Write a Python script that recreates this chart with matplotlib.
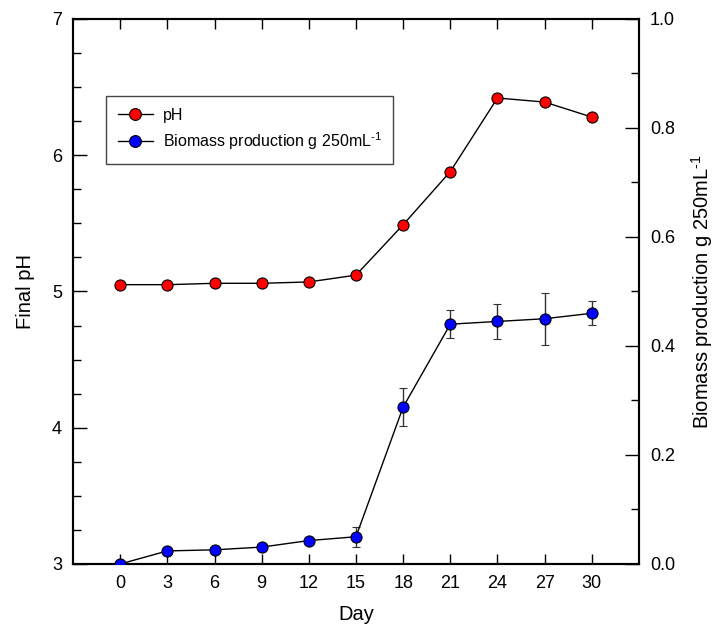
import matplotlib.pyplot as plt
from matplotlib.lines import Line2D
from matplotlib.ticker import MultipleLocator

plt.rcParams['font.family'] = ['Liberation Sans', 'DejaVu Sans']
plt.rcParams['mathtext.fontset'] = 'custom'
plt.rcParams['mathtext.rm'] = 'Liberation Sans'

# ---------------------------------------------
# Data
# ---------------------------------------------
days = [0, 3, 6, 9, 12, 15, 18, 21, 24, 27, 30]

ph = [5.05, 5.05, 5.06, 5.06, 5.07, 5.12, 5.49, 5.88, 6.42, 6.39, 6.28]
ph_err = [0.01, 0.01, 0.01, 0.01, 0.01, 0.015, 0.025, 0.025, 0.03, 0.025, 0.025]

biomass = [0.0, 0.024, 0.026, 0.031, 0.043, 0.050, 0.288, 0.440, 0.445, 0.450, 0.460]
biomass_err = [0.0, 0.003, 0.003, 0.003, 0.004, 0.018, 0.035, 0.026, 0.032, 0.048, 0.022]

x_ticks = [0, 3, 6, 9, 12, 15, 18, 21, 24, 27, 30]

bio_label = r'Biomass production g 250mL$^{\mathrm{\text{-}1}}$'


def main():
    fig = plt.figure(figsize=(7.28, 6.32), dpi=100)
    ax1 = fig.add_axes([0.1003, 0.1076, 0.7774, 0.8624])
    ax2 = ax1.twinx()

    style = dict(fmt='-o', color='black', lw=1.0, ecolor='#333333',
                 elinewidth=1.0, capsize=3, capthick=1.0, markersize=8,
                 markeredgecolor='black', markeredgewidth=0.8, zorder=3)

    # pH on the left axis, biomass on the right axis
    ax1.errorbar(days, ph, yerr=ph_err, markerfacecolor='#ff0000', **style)
    ax2.errorbar(days, biomass, yerr=biomass_err, markerfacecolor='#0000ff', **style)

    ax1.set_xlim(-3, 33)
    ax1.set_ylim(3, 7)
    ax2.set_ylim(0, 1.0)

    ax1.set_xticks(x_ticks)
    ax1.yaxis.set_major_locator(MultipleLocator(1))
    ax1.yaxis.set_minor_locator(MultipleLocator(0.25))
    ax2.yaxis.set_major_locator(MultipleLocator(0.2))
    ax2.yaxis.set_minor_locator(MultipleLocator(0.1))
    ax2.set_yticklabels(['%.1f' % v for v in ax2.get_yticks()])

    ax1.tick_params(axis='x', direction='in', length=7, width=1, top=True,
                    labelsize=13, pad=8)
    ax1.tick_params(axis='y', which='major', direction='in', length=10, width=1,
                    labelsize=13, pad=8)
    ax1.tick_params(axis='y', which='minor', direction='in', length=6, width=1)
    ax2.tick_params(axis='y', which='major', direction='in', length=10, width=1,
                    labelsize=13, pad=8)
    ax2.tick_params(axis='y', which='minor', direction='in', length=6, width=1)

    for ax in (ax1, ax2):
        for s in ax.spines.values():
            s.set_linewidth(1.5)

    ax1.set_xlabel('Day', fontsize=14.5, labelpad=9)
    ax1.set_ylabel('Final pH', fontsize=14.5, labelpad=12)
    ax2.set_ylabel(bio_label, fontsize=14.5, labelpad=10)

    # legend: plain line + marker handles
    handles = [
        Line2D([], [], color='black', lw=1.0, marker='o', markersize=8.5,
               markerfacecolor='#ff0000', markeredgecolor='black', markeredgewidth=0.8),
        Line2D([], [], color='black', lw=1.0, marker='o', markersize=8.5,
               markerfacecolor='#0000ff', markeredgecolor='black', markeredgewidth=0.8),
    ]
    leg = ax2.legend(handles, ['pH', bio_label], loc='upper left',
                     bbox_to_anchor=(0.058, 0.859), borderaxespad=0, fontsize=11.5,
                     fancybox=False, edgecolor='#444444', framealpha=1,
                     borderpad=0.75, handlelength=2.2, handletextpad=0.6,
                     labelspacing=0.45)
    leg.get_frame().set_linewidth(1.0)

    fig.savefig('out.png', dpi=100)
    plt.close(fig)


if __name__ == "__main__":
    main()
